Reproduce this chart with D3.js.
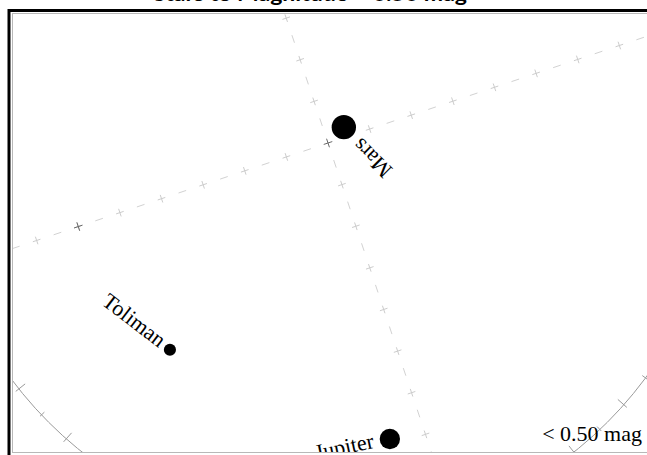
<!DOCTYPE html>
<html>
<head>
<meta charset="utf-8">
<script src="https://cdn.jsdelivr.net/npm/d3@7"></script>
<style>
body { margin: 0; background: #fff; }
svg { display: block; }
</style>
</head>
<body>
<svg id="chart"></svg>
<script>
"use strict";
// objects brighter than the limit, horizon coordinates in degrees
var names = ["Mars", "Toliman", "Jupiter"];
var azimuth = [63.5, 235.9, 186.7];
var altitude = [84.9, 30.7, 21.1];
var magnitude = [-2.1, -0.27, -1.5];

// grid
var gridAz = [0, 90, 180, 270];
var gridAlt = [90, 80, 70, 60, 50, 40, 30, 20, 10, 0];
var markedCross = [[0, 90], [270, 30]];
var horizonTicks = d3.range(0, 360, 5);

var title = "Stars to Magnitude < 0.50 mag";
var legendText = "< 0.50 mag";

var width = 647, height = 455;
var cx = 328, cy = 143, horizonR = 395;
var rad = Math.PI / 180;

var svg = d3.select('#chart').attr("width", width).attr("height", height);

var rScale = d3.scaleLinear().domain([90, 0]).range([0, horizonR]);
var aScale = d3.scaleLinear().domain([0, 360]).range([-18.5 * rad, 341.5 * rad]);
var sizeScale = d3.scaleLinear().domain([0.5, -2.5]).range([3.5, 13.5]);

function pos(az, alt, dr) {
    var p = d3.pointRadial(aScale(az), rScale(alt) + (dr || 0));
    return [cx + p[0], cy + p[1]];
}

function crossPath(az, alt, s) {
    var p = pos(az, alt);
    var a = aScale(az);
    var u = [Math.sin(a), -Math.cos(a)], t = [Math.cos(a), Math.sin(a)];
    return "M" + (p[0] - s * u[0]) + "," + (p[1] - s * u[1]) +
           "L" + (p[0] + s * u[0]) + "," + (p[1] + s * u[1]) +
           "M" + (p[0] - s * t[0]) + "," + (p[1] - s * t[1]) +
           "L" + (p[0] + s * t[0]) + "," + (p[1] + s * t[1]);
}

svg.append("defs").append("clipPath").attr("id", "plot")
  .append("rect").attr("x", 12.5).attr("y", 13.5).attr("width", 700).attr("height", 439);

var g = svg.append("g").attr("clip-path", "url(#plot)");

// dashes between crosses
var dashes = [];
gridAz.forEach(function(az) {
    gridAlt.slice(0, -1).forEach(function(alt) {
        dashes.push([pos(az, alt - 5, -4), pos(az, alt - 5, 4)]);
    });
});
g.selectAll(".dash").data(dashes).enter().append("line")
  .attr("x1", function(d) { return d[0][0]; })
  .attr("y1", function(d) { return d[0][1]; })
  .attr("x2", function(d) { return d[1][0]; })
  .attr("y2", function(d) { return d[1][1]; })
  .attr("stroke", "#d2d2d2").attr("stroke-width", 1);

var crosses = [];
gridAz.forEach(function(az) {
    gridAlt.slice(1).forEach(function(alt) { crosses.push([az, alt]); });
});
g.selectAll(".cross").data(crosses).enter().append("path")
  .attr("d", function(d) { return crossPath(d[0], d[1], 4); })
  .attr("stroke", "#cccccc").attr("stroke-width", 1).attr("fill", "none");

g.selectAll(".mark").data(markedCross).enter().append("path")
  .attr("d", function(d) { return crossPath(d[0], d[1], 4.5); })
  .attr("stroke", "#6a6a6a").attr("stroke-width", 1).attr("fill", "none");

// horizon
g.append("circle").attr("cx", cx).attr("cy", cy).attr("r", rScale(0))
  .attr("fill", "none").attr("stroke", "#9a9a9a").attr("stroke-width", 1);
g.selectAll(".tick").data(horizonTicks).enter().append("line")
  .each(function(az) {
      var long = az % 10 === 0;
      var a = pos(az, 0, long ? -8 : -4), b = pos(az, 0, long ? 4 : 2);
      d3.select(this).attr("x1", a[0]).attr("y1", a[1]).attr("x2", b[0]).attr("y2", b[1]);
  })
  .attr("stroke", "#9a9a9a").attr("stroke-width", 1);

// objects
var objects = names.map(function(n, i) {
    return { name: n, az: azimuth[i], alt: altitude[i], mag: magnitude[i] };
});
g.selectAll(".obj").data(objects).enter().append("circle")
  .attr("cx", function(d) { return pos(d.az, d.alt)[0]; })
  .attr("cy", function(d) { return pos(d.az, d.alt)[1]; })
  .attr("r", function(d) { return sizeScale(d.mag); })
  .attr("fill", "#000");

g.selectAll(".lbl").data(objects).enter().append("text")
  .attr("transform", function(d) {
      var p = pos(d.az, d.alt);
      var rot = aScale(d.az) / rad - 180;
      var off = sizeScale(d.mag) * 1.6;
      var x = p[0] - Math.cos(rot * rad) * off, y = p[1] - Math.sin(rot * rad) * off;
      return "translate(" + x + "," + y + ") rotate(" + rot + ")";
  })
  .attr("text-anchor", "end").attr("dy", "0.25em")
  .style("font-family", "'Liberation Serif', 'Times New Roman', serif")
  .style("font-size", "22px")
  .text(function(d) { return d.name; });

g.append("text").attr("x", 642).attr("y", 441).attr("text-anchor", "end")
  .style("font-family", "'Liberation Serif', 'Times New Roman', serif")
  .style("font-size", "22px")
  .text(legendText);

// frame
svg.append("rect").attr("x", 12.5).attr("y", 13.5).attr("width", 700).attr("height", 439)
  .attr("fill", "none").attr("stroke", "#b8b8b8").attr("stroke-width", 1);
svg.append("rect").attr("x", 9).attr("y", 10.5).attr("width", 700).attr("height", 446)
  .attr("fill", "none").attr("stroke", "#000").attr("stroke-width", 3);

svg.append("text").attr("x", 310).attr("y", 0.5).attr("text-anchor", "middle")
  .attr("textLength", 314).attr("lengthAdjust", "spacingAndGlyphs")
  .style("font-family", "Lato, 'Liberation Sans', sans-serif")
  .style("font-weight", "bold").style("font-size", "21px")
  .text(title);
</script>
</body>
</html>
